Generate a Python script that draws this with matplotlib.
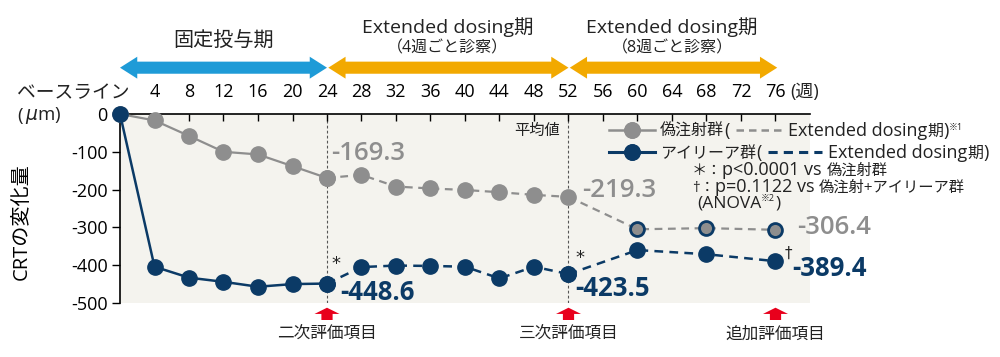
import matplotlib
matplotlib.use("Agg")
import matplotlib.pyplot as plt
import matplotlib.transforms as mtransforms
from matplotlib.patches import Polygon
from matplotlib.lines import Line2D

plt.rcParams['font.family'] = ['Open Sans', 'Noto Sans CJK JP', 'DejaVu Sans']

# データ（週、CRTの変化量 μm）
weeks_fixed = [0, 4, 8, 12, 16, 20, 24]
weeks_ext4 = [24, 28, 32, 36, 40, 44, 48, 52]
weeks_ext8 = [52, 60, 68, 76]

sham_fixed = [0, -17, -58, -100, -107, -138, -169.3]
sham_ext4 = [-169.3, -161, -192, -197, -201, -207, -214, -219.3]
sham_ext8 = [-219.3, -305, -302, -306.4]

eylea_fixed = [0, -404, -433, -444, -457, -450, -448.6]
eylea_ext4 = [-448.6, -405, -401, -402, -404, -435, -404, -423.5]
eylea_ext8 = [-423.5, -360, -371, -389.4]

xticks = list(range(4, 77, 4))
yticks = [0, -100, -200, -300, -400, -500]

GRAY = '#8e8e8e'
NAVY = '#0b3a66'
BLUE = '#1e9bd7'
ORANGE = '#f2a900'
RED = '#e8001c'
BG = '#f4f3ee'
INK = '#222222'

fig = plt.figure(figsize=(10, 3.57), dpi=100)
ax = fig.add_axes([0.12, 0.1513, 0.69, 0.5294])
ax.set_facecolor(BG)
ax.set_xlim(0, 80)
ax.set_ylim(-500, 0)

DASH = (0, (3.5, 2.5))

# 線
ax.plot(weeks_fixed, sham_fixed, color=GRAY, lw=1.6, marker='o', ms=11,
        mfc=GRAY, mec=GRAY, clip_on=False, zorder=3)
ax.plot(weeks_ext4, sham_ext4, color=GRAY, lw=1.6, ls=DASH, marker='o', ms=11,
        mfc=GRAY, mec=GRAY, zorder=3)
ax.plot(weeks_ext8, sham_ext8, color=GRAY, lw=1.6, ls=DASH, zorder=3)
ax.plot(weeks_ext8[1:], sham_ext8[1:], ls='none', marker='o', ms=10,
        mfc=GRAY, mec=NAVY, mew=2, zorder=4)

ax.plot(weeks_fixed, eylea_fixed, color=NAVY, lw=1.8, marker='o', ms=11,
        mfc=NAVY, mec=NAVY, clip_on=False, zorder=5)
ax.plot(weeks_ext4, eylea_ext4, color=NAVY, lw=1.8, ls=DASH, marker='o', ms=11,
        mfc=NAVY, mec=NAVY, zorder=5)
ax.plot(weeks_ext8, eylea_ext8, color=NAVY, lw=1.8, ls=DASH, marker='o', ms=11,
        mfc=NAVY, mec=NAVY, zorder=5)

# 縦の点線
for wx in (24, 52):
    ax.axvline(wx, color='#555555', lw=0.8, ls=(0, (2.5, 2)), zorder=1)

# 軸
for s in ('bottom', 'right'):
    ax.spines[s].set_visible(False)
ax.spines['top'].set_linewidth(1.2)
ax.spines['left'].set_linewidth(1.2)
ax.xaxis.tick_top()
ax.set_xticks(xticks)
ax.tick_params(axis='x', direction='in', length=5, width=1, pad=9, labelsize=13)
ax.set_yticks(yticks)
ax.set_yticklabels([str(v) for v in yticks])
ax.tick_params(axis='y', direction='out', length=6, width=1, pad=3, labelsize=13)
ax.set_ylabel('CRTの変化量', fontsize=14.5)
ax.yaxis.set_label_coords(-0.128, 0.43)

# 数値ラベル
def lab(x, y, s, color, dx, dy, weight='normal'):
    ax.annotate(s, (x, y), xytext=(dx * 0.72, dy * 0.72), textcoords='offset points',
                ha='left', va='center', fontsize=18.5, color=color, fontweight=weight,
                annotation_clip=False, zorder=6)

lab(24, sham_fixed[-1], '-169.3', GRAY, 4, 24, 'semibold')
lab(52, sham_ext4[-1], '-219.3', GRAY, 14, 6, 'semibold')
lab(76, sham_ext8[-1], '-306.4', GRAY, 22, 2, 'semibold')
lab(24, eylea_fixed[-1], '-448.6', NAVY, 13, -9, 'bold')
lab(52, eylea_ext4[-1], '-423.5', NAVY, 7, -14, 'bold')
lab(76, eylea_ext8[-1], '-389.4', NAVY, 17, -7, 'bold')

def mark(x, y, s, dx, dy, size=13):
    ax.annotate(s, (x, y), xytext=(dx * 0.72, dy * 0.72), textcoords='offset points',
                ha='center', va='center', fontsize=size, color=INK,
                family=['DejaVu Sans'], annotation_clip=False)

mark(24, eylea_fixed[-1], '*', 9, 20)
mark(52, eylea_ext4[-1], '*', 11, 16)
mark(76, eylea_ext8[-1], '†', 13, 8, 11)

ax.text(51.0, -46, '平均値', ha='right', va='center', fontsize=11, color=INK)

trans = mtransforms.blended_transform_factory(ax.transData, ax.transAxes)

# 上部の両矢印
def dbl_arrow(x0, x1, yc, color, hl=2.0, bw=0.032, hw=0.058):
    pts = [(x0, yc), (x0 + hl, yc + hw), (x0 + hl, yc + bw), (x1 - hl, yc + bw),
           (x1 - hl, yc + hw), (x1, yc), (x1 - hl, yc - hw), (x1 - hl, yc - bw),
           (x0 + hl, yc - bw), (x0 + hl, yc - hw)]
    ax.add_patch(Polygon(pts, closed=True, facecolor=color, edgecolor='none',
                         transform=trans, clip_on=False))

dbl_arrow(0, 24, 1.245, BLUE)
dbl_arrow(24.15, 52, 1.245, ORANGE)
dbl_arrow(52.15, 76.2, 1.245, ORANGE)

ax.text(12, 1.38, '固定投与期', transform=trans, ha='center', va='center', fontsize=14.5, color=INK)
ax.text(38, 1.46, 'Extended dosing期', transform=trans, ha='center', va='center', fontsize=14, color=INK)
ax.text(38, 1.345, '（4週ごと診察）', transform=trans, ha='center', va='center', fontsize=11.5, color=INK)
ax.text(64, 1.46, 'Extended dosing期', transform=trans, ha='center', va='center', fontsize=14, color=INK)
ax.text(64, 1.345, '（8週ごと診察）', transform=trans, ha='center', va='center', fontsize=11.5, color=INK)

# 下部の赤矢印と評価項目
def up_arrow(xc, color=RED):
    pts = [(xc, -0.025), (xc + 1.45, -0.058), (xc + 0.65, -0.058), (xc + 0.65, -0.09),
           (xc - 0.65, -0.09), (xc - 0.65, -0.058), (xc - 1.45, -0.058)]
    ax.add_patch(Polygon(pts, closed=True, facecolor=color, edgecolor='none',
                         transform=trans, clip_on=False))

for wx, txt in ((24, '二次評価項目'), (52, '三次評価項目'), (76, '追加評価項目')):
    up_arrow(wx)
    ax.text(wx, -0.17, txt, transform=trans, ha='center', va='center', fontsize=12, color=INK)

# 軸まわりの文字（図のピクセル座標で配置）
renderer = fig.canvas.get_renderer()

def ftext(px, py, s, va='center', **kw):
    kw.setdefault('color', INK)
    return fig.text(px / 1000, 1 - py / 357, s, ha='left', va=va, **kw)

def fline(x0, x1, py, **kw):
    fig.add_artist(Line2D([x0 / 1000, x1 / 1000], [1 - py / 357, 1 - py / 357],
                          transform=fig.transFigure, **kw))

def right_edge(t):
    return t.get_window_extent(renderer).x1

def seq(px, py, pieces):
    # pieces: (文字列, サイズ, 上ずれ) または ('LINE', 長さ, 色, 線幅)
    # py は文字の中心、ベースラインは py + 6
    x = px
    for p in pieces:
        if p[0] == 'LINE':
            fline(x + 7, x + 7 + p[1], py, color=p[2], lw=p[3], ls=(0, (3, 2)))
            x = x + p[1] + 13
        else:
            t = ftext(x, py + 6 - p[2], p[0], va='baseline', fontsize=p[1])
            x = right_edge(t)
    return x

ftext(17, 93, 'ベースライン', fontsize=13.5)
ftext(17, 116, '(', fontsize=13.5)
ftext(25, 116, r'$\mu$m)', fontsize=13.5)
ftext(790, 92, '(週)', fontsize=13)

# 凡例（手描き）
fline(609, 655, 130, color=GRAY, lw=1.8)
fline(632, 632, 130, color=GRAY, marker='o', ms=11, ls='none')
seq(660, 130, [('偽注射群', 11.5, 0), ('(', 13, 0), ('LINE', 46, GRAY, 1.8),
               ('Extended dosing', 13, 0), ('期', 11.5, 0), (')', 13, 0), ('※1', 6.5, 6)])

fline(609, 655, 152, color=NAVY, lw=2.2)
fline(632, 632, 152, color=NAVY, marker='o', ms=11, ls='none')
seq(660, 152, [('アイリーア群', 11.5, 0), ('(', 13, 0), ('LINE', 54, NAVY, 2.2),
               ('Extended dosing', 13, 0), ('期', 11.5, 0), (')', 13, 0)])

seq(692, 169, [('＊：', 11, 0), ('p<0.0001 vs ', 13, 0), ('偽注射群', 11, 0)])
seq(692, 186, [('†：', 11, 0), ('p=0.1122 vs ', 13, 0), ('偽注射+アイリーア群', 11, 0)])
seq(697, 201, [('(ANOVA', 12.5, 0), ('※2', 6.5, 6), (')', 12.5, 0)])

fig.savefig('out.png', dpi=100)
